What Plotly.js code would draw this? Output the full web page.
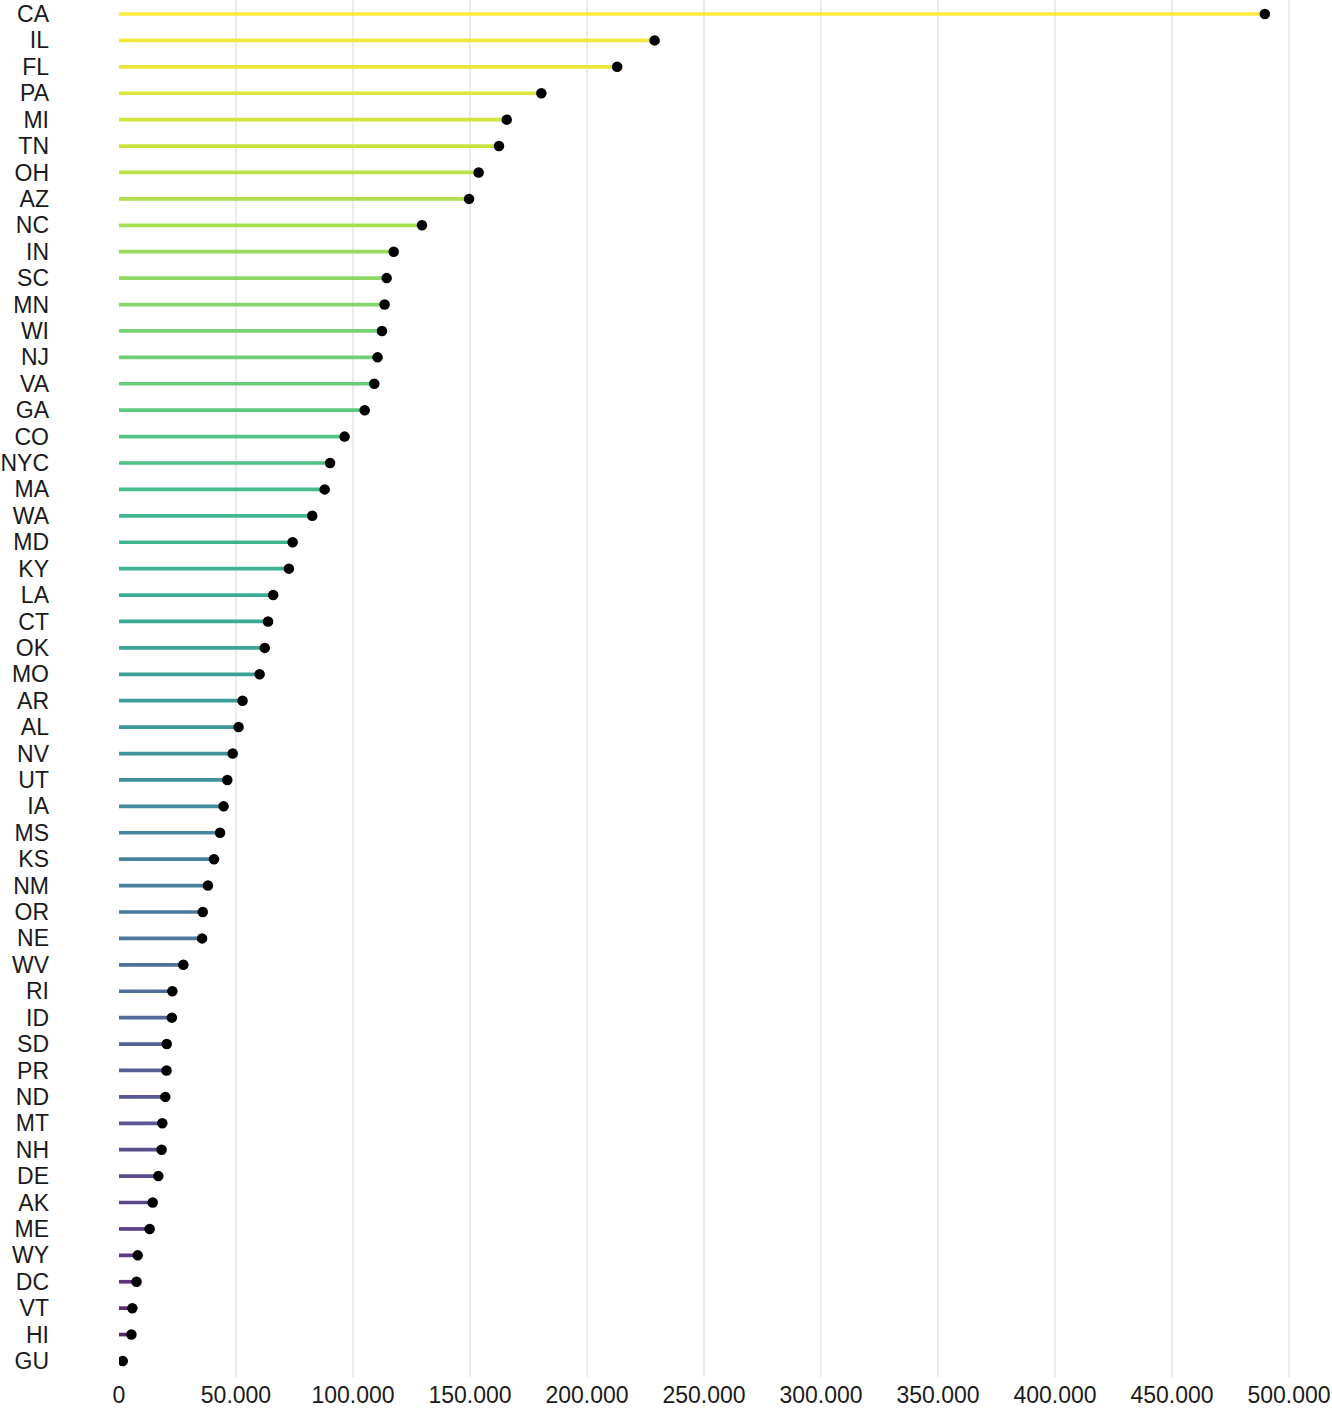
<!DOCTYPE html>
<html>
<head>
<meta charset="utf-8">
<script src="https://cdn.plot.ly/plotly-3.0.1.min.js"></script>
<style>
  html, body { margin: 0; padding: 0; background: #ffffff; }
  #chart { width: 1332px; height: 1408px; }
</style>
</head>
<body>
<div id="chart"></div>
<script>
// Categories, top to bottom as drawn
const states = ["CA","IL","FL","PA","MI","TN","OH","AZ","NC","IN","SC","MN","WI","NJ","VA","GA","CO","NYC","MA","WA","MD","KY","LA","CT","OK","MO","AR","AL","NV","UT","IA","MS","KS","NM","OR","NE","WV","RI","ID","SD","PR","ND","MT","NH","DE","AK","ME","WY","DC","VT","HI","GU"];
// Values
const values = [489700,228900,212900,180500,165700,162400,153700,149600,129500,117400,114400,113500,112400,110500,109100,105000,96400,90200,87900,82600,74200,72600,65900,63700,62300,60100,52800,51100,48600,46300,44700,43200,40600,38000,35800,35500,27500,22800,22600,20400,20300,19800,18500,18200,16800,14400,13100,8000,7500,5700,5300,1600];
// X-axis tick values
const xTicks = [0,50000,100000,150000,200000,250000,300000,350000,400000,450000,500000];

// viridis palette stops (style only)
const viridisStops = ['#440154','#48186a','#472d7b','#424086','#3b528b','#33638d','#2c728e','#26828e','#21918c','#1fa088','#28ae80','#3fbc73','#5ec962','#84d44b','#addc30','#d8e219','#fde725'];
function hexToRgb(h) { return [parseInt(h.slice(1,3),16), parseInt(h.slice(3,5),16), parseInt(h.slice(5,7),16)]; }
function viridis(t) {
  const m = viridisStops.length - 1;
  const p = Math.max(0, Math.min(1, t)) * m;
  const i = Math.min(Math.floor(p), m - 1);
  const f = p - i;
  const a = hexToRgb(viridisStops[i]), b = hexToRgb(viridisStops[i + 1]);
  const c = a.map((v, k) => Math.round(v + (b[k] - v) * f));
  return 'rgb(' + c.join(',') + ')';
}

const n = states.length;
const traces = [];
states.forEach((s, i) => {
  const rank = n - 1 - i; // GU = 0 ... CA = n-1
  traces.push({
    type: 'scatter',
    mode: 'lines',
    x: [0, values[i]],
    y: [s, s],
    line: { color: viridis(rank / (n - 1)), width: 3.7 },
    opacity: 0.88,
    hoverinfo: 'skip',
    showlegend: false
  });
});

traces.push({
  type: 'scatter',
  mode: 'markers',
  y: states,
  x: values,
  marker: { color: '#000000', size: 10.5 },
  showlegend: false
});

const layout = {
  width: 1332,
  height: 1408,
  margin: { l: 119, r: 0, t: 0, b: 31, pad: 0 },
  paper_bgcolor: '#ffffff',
  plot_bgcolor: '#ffffff',
  separators: ',.',
  font: { family: 'Liberation Sans, Arial, sans-serif', size: 23, color: '#1a1a1a' },
  xaxis: {
    range: [0, 518400],
    tickmode: 'array',
    tickvals: xTicks,
    tickformat: ',d',
    showgrid: true,
    gridcolor: '#EBEBEB',
    gridwidth: 2,
    zeroline: false,
    showline: false,
    ticks: '',
    ticklabelstandoff: 2,
    tickfont: { size: 23, color: '#1a1a1a' }
  },
  yaxis: {
    type: 'category',
    categoryorder: 'array',
    categoryarray: states.slice().reverse(),
    tickmode: 'array',
    tickvals: states,
    ticktext: states,
    range: [-0.606, 51.53],
    showgrid: false,
    zeroline: false,
    showline: false,
    ticks: '',
    ticklabelstandoff: 69,
    tickfont: { size: 23, color: '#1a1a1a' }
  }
};

Plotly.newPlot('chart', traces, layout, { displayModeBar: false, staticPlot: true });
</script>
</body>
</html>
